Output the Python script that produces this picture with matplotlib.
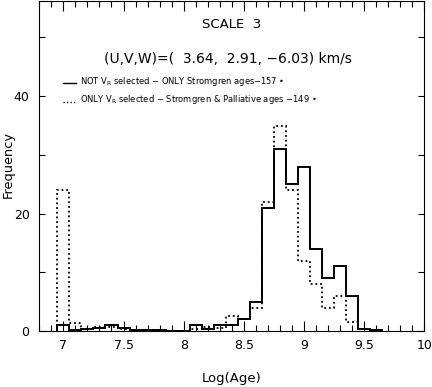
import numpy as np
import matplotlib
matplotlib.use('Agg')
import matplotlib.pyplot as plt
from matplotlib.lines import Line2D
from matplotlib.ticker import MultipleLocator

# bin centres of the Log(Age) histogram (width 0.1)
log_age = [7.0, 7.1, 7.2, 7.3, 7.4, 7.5, 7.6, 7.7, 7.8, 7.9, 8.0, 8.1, 8.2, 8.3,
           8.4, 8.5, 8.6, 8.7, 8.8, 8.9, 9.0, 9.1, 9.2, 9.3, 9.4, 9.5, 9.6]

not_vr = [1.0, 0.2, 0.3, 0.5, 1.0, 0.5, 0.2, 0.2, 0.1, 0.0, 0.0, 1.0, 0.4, 1.0,
          1.0, 2.0, 5.0, 21.0, 31.0, 25.0, 28.0, 14.0, 9.0, 11.0, 6.0, 0.3, 0.1]
only_vr = [24.0, 1.4, 0.3, 0.6, 0.6, 0.3, 0.2, 0.1, 0.1, 0.0, 0.0, 0.4, 0.7, 0.5,
           2.5, 2.0, 4.0, 22.0, 35.0, 24.0, 12.0, 8.0, 4.0, 6.0, 1.5, 0.3, 0.0]

label_solid = 'NOT V$_\\mathrm{R}$ selected \u2212 ONLY Stromgren ages\u2212157 \u2022'
label_dot = 'ONLY V$_\\mathrm{R}$ selected \u2212 Stromgren & Palliative ages \u2212149 \u2022'

W, H = 432, 387
fig = plt.figure(figsize=(W / 100, H / 100), dpi=100)
ax = fig.add_axes([39.3 / W, 1 - 331 / H, 385 / W, 330.5 / H])

centers = np.array(log_age)
edges = np.append(centers - 0.05, centers[-1] + 0.05)

ax.stairs(not_vr, edges, color='black', lw=1.4, baseline=0)
ax.stairs(only_vr, edges, color='black', lw=1.3, ls=(0, (1, 1.6)), baseline=0)

ax.set_xlim(6.8, 10)
ax.set_ylim(0, 56.3)
ax.xaxis.set_major_locator(MultipleLocator(0.5))
ax.xaxis.set_minor_locator(MultipleLocator(0.1))
ax.yaxis.set_major_locator(MultipleLocator(20))
ax.yaxis.set_minor_locator(MultipleLocator(10))
ax.set_xticklabels([], minor=True)
ax.xaxis.set_major_formatter(plt.FuncFormatter(lambda v, p: f'{v:g}'))

ax.tick_params(which='both', direction='in', top=True, right=True, width=0.8,
               labelsize=9)
ax.tick_params(which='major', length=7, pad=6)
ax.tick_params(which='minor', length=4.5)
ax.tick_params(axis='y', which='major', length=4.5, pad=7)
for s in ax.spines.values():
    s.set_linewidth(0.8)

ax.set_xlabel('Log(Age)', fontsize=9.5, labelpad=14)
ax.set_ylabel('Frequency', fontsize=9.3, va='center')
ax.yaxis.set_label_coords((8 - 39.3) / 385, (331 - 164) / 330.5)

fig.text(232 / W, 1 - 25 / H, 'SCALE  3', ha='center', va='center', fontsize=9.5)
fig.text(228 / W, 1 - 59 / H, '(U,V,W)=(  3.64,  2.91, \u22126.03) km/s',
         ha='center', va='center', fontsize=10)

fig.add_artist(Line2D([63 / W, 76 / W], [1 - 83 / H] * 2, color='black', lw=1.0))
fig.add_artist(Line2D([63 / W, 76 / W], [1 - 101.5 / H] * 2, color='black', lw=1.0,
                      ls=(0, (1, 1.5))))
fig.text(80 / W, 1 - 81 / H, label_solid, ha='left', va='center', fontsize=6.0)
fig.text(80 / W, 1 - 100 / H, label_dot, ha='left', va='center', fontsize=6.0)

fig.savefig('out.png', dpi=100)
